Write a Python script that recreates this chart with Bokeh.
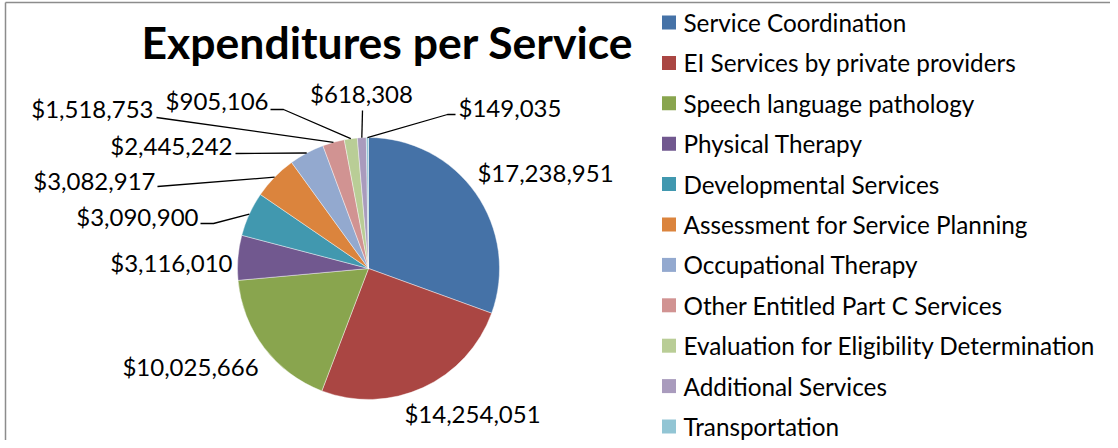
import numpy as np
from bokeh.plotting import figure
from bokeh.models import Range1d, ColumnDataSource
from bokeh.core.properties import value
from bokeh.embed import file_html
from bokeh.resources import INLINE

# ---- data ----
services = ["Service Coordination", "EI Services by private providers", "Speech language pathology",
            "Physical Therapy", "Developmental Services", "Assessment for Service Planning",
            "Occupational Therapy", "Other Entitled Part C Services",
            "Evaluation for Eligibility Determination", "Additional Services", "Transportation"]
amounts = [17238951, 14254051, 10025666, 3116010, 3090900, 3082917, 2445242, 1518753, 905106, 618308, 149035]
title = "Expenditures per Service"

# ---- style ----
colors = ["#4572A7", "#AA4643", "#89A54E", "#71588F", "#4198AF", "#DB843D",
          "#93A9CF", "#D19392", "#B9CD96", "#A99BBD", "#92C5D4"]
FONT = "Lato"

W, H = 1110, 440


def X(xr):
    return xr


def Y(yr):
    return H - yr


p = figure(width=W, height=H, x_range=Range1d(0, W), y_range=Range1d(0, H),
           output_backend="svg", toolbar_location=None, min_border=0)
p.axis.visible = False
p.grid.visible = False
p.outline_line_color = None
p.background_fill_color = "white"
p.border_fill_color = "white"

# border (left + top)
p.segment(x0=[X(5), X(5)], y0=[0, Y(2)], x1=[X(5), W], y1=[Y(2), Y(2)],
          line_color="#8c8c8c", line_width=1.5)

# ---- pie ----
cx, cy, R = X(368), Y(268), 131
vals = np.array(amounts, dtype=float)
frac = vals / vals.sum()
cum_end = np.cumsum(frac)
cum_start = cum_end - frac
start_ang = np.pi / 2 - cum_end * 2 * np.pi
end_ang = np.pi / 2 - cum_start * 2 * np.pi
mid_ang = (start_ang + end_ang) / 2

src = ColumnDataSource(dict(start=start_ang, end=end_ang, color=colors))
p.wedge(x=cx, y=cy, radius=R, start_angle="start", end_angle="end",
        fill_color="color", line_color="white", line_width=0.6, line_alpha=0.7, source=src)

# ---- data labels (layout) ----
label_pos = [(545, 172, "center"), (472, 413, "center"), (190, 366, "center"),
             (232, 262, "right"), (198, 216, "right"), (155, 180, "right"),
             (232, 145, "right"), (153, 108, "right"), (268, 100, "right"),
             (361, 93, "center"), (458, 107, "left")]
leaders = {4: [(200, 223), (213, 223)], 5: [(157, 186)], 6: [(235, 153)],
           7: [(156, 117)], 8: [(270, 109), (283, 109)], 9: [(362, 110)],
           10: [(455, 114), (447, 114)]}

for i, v in enumerate(amounts):
    lx, ly, al = label_pos[i]
    p.text(x=[X(lx)], y=[Y(ly)], text=[f"${v:,}"], text_align=al, text_baseline="middle",
           text_font=value(FONT), text_font_size="24px", text_color="black")
    if i in leaders:
        pts = leaders[i]
        xs = [X(a) for a, b in pts] + [cx + R * np.cos(mid_ang[i])]
        ys = [Y(b) for a, b in pts] + [cy + R * np.sin(mid_ang[i])]
        p.line(x=xs, y=ys, line_color="black", line_width=1.3)

# ---- title ----
p.text(x=[X(387)], y=[Y(41)], text=[title], text_align="center", text_baseline="middle",
       text_font=value(FONT), text_font_style="bold", text_font_size="44.5px", text_color="black")

# ---- legend ----
row0, dy = 22, 40.4
ys_leg = [Y(row0 + k * dy) for k in range(len(services))]
p.rect(x=[X(668.5)] * len(services), y=ys_leg, width=14, height=14,
       fill_color=colors, line_color=None)
p.text(x=[X(683)] * len(services), y=ys_leg, text=services, text_align="left",
       text_baseline="middle", text_font=value(FONT), text_font_size="24.3px", text_color="black")

open("out.html", "w").write(file_html(p, INLINE))
